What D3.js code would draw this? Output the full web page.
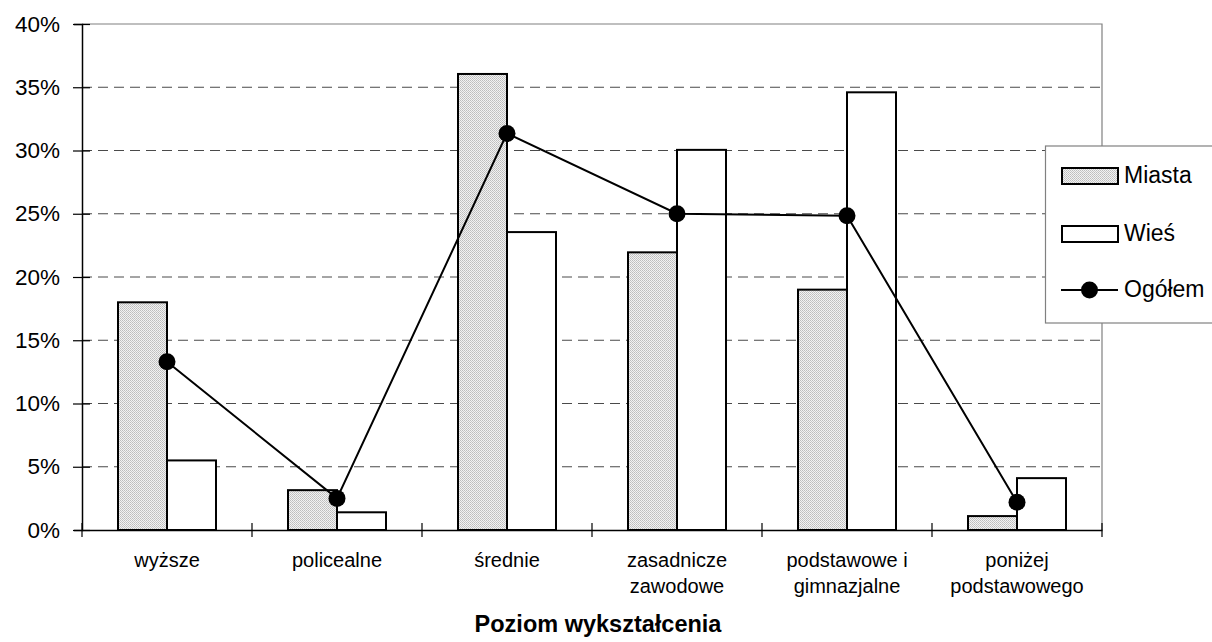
<!DOCTYPE html>
<html>
<head>
<meta charset="utf-8">
<script src="https://cdn.jsdelivr.net/npm/d3@7"></script>
<style>
  html, body { margin: 0; padding: 0; background: #fff; }
  svg { display: block; font-family: "Liberation Sans", Arial, sans-serif; }
</style>
</head>
<body>
<svg id="chart" width="1212" height="642"></svg>
<script>
// ---- data ----
const categories = ["wyższe", "policealne", "średnie", "zasadnicze\nzawodowe", "podstawowe i\ngimnazjalne", "poniżej\npodstawowego"];
const seriesNames = ["Miasta", "Wieś", "Ogółem"];
const miasta = [18.0, 3.15, 36.05, 21.95, 19.0, 1.1];
const wies = [5.5, 1.4, 23.55, 30.05, 34.6, 4.1];
const ogolem = [13.3, 2.5, 31.35, 25.0, 24.85, 2.2];
const yTicks = [0, 5, 10, 15, 20, 25, 30, 35, 40];
const xTitle = "Poziom wykształcenia";

// ---- layout ----
const svg = d3.select("#chart");
const plot = { left: 82, right: 1102, top: 24, bottom: 530 };

const x = d3.scaleBand().domain(categories).range([plot.left, plot.right]).padding(0);
const y = d3.scaleLinear().domain([0, 40]).range([plot.bottom, plot.top]);
const barW = 49;
const xSub = d3.scaleBand().domain(["Miasta", "Wieś"])
  .range([x.bandwidth() / 2 - barW, x.bandwidth() / 2 + barW]).padding(0);

// pattern for Miasta
const defs = svg.append("defs");
const pat = defs.append("pattern").attr("id", "dots").attr("width", 2).attr("height", 2)
  .attr("patternUnits", "userSpaceOnUse");
pat.append("rect").attr("width", 2).attr("height", 2).attr("fill", "#f2f2f2");
pat.append("rect").attr("width", 1).attr("height", 1).attr("fill", "#bdbdbd");
pat.append("rect").attr("x", 1).attr("y", 1).attr("width", 1).attr("height", 1).attr("fill", "#c8c8c8");

// gridlines (dashed), excluding 0 and 40
svg.append("g").selectAll("line").data(yTicks.filter(d => d > 0 && d < 40)).join("line")
  .attr("x1", plot.left).attr("x2", plot.right)
  .attr("y1", d => y(d)).attr("y2", d => y(d))
  .attr("stroke", "#4a4a4a").attr("stroke-width", 1).attr("stroke-dasharray", "10,6");

// plot border top & right (gray)
svg.append("path")
  .attr("d", `M${plot.left},${y(40)}H${plot.right}V${plot.bottom}`)
  .attr("fill", "none").attr("stroke", "#808080").attr("stroke-width", 1.2);

// bars
const groups = svg.append("g").selectAll("g").data(categories).join("g")
  .attr("transform", d => `translate(${x(d)},0)`);
groups.append("rect")
  .attr("x", xSub("Miasta")).attr("width", xSub.bandwidth())
  .attr("y", (d, i) => y(miasta[i])).attr("height", (d, i) => y(0) - y(miasta[i]))
  .attr("fill", "url(#dots)").attr("stroke", "#000").attr("stroke-width", 2);
groups.append("rect")
  .attr("x", xSub("Wieś")).attr("width", xSub.bandwidth())
  .attr("y", (d, i) => y(wies[i])).attr("height", (d, i) => y(0) - y(wies[i]))
  .attr("fill", "#fff").attr("stroke", "#000").attr("stroke-width", 2);

// y axis
const yAxis = svg.append("g").attr("transform", `translate(${plot.left},0)`)
  .call(d3.axisLeft(y).tickValues(yTicks).tickFormat(d => d + "%").tickSize(8).tickPadding(14));
yAxis.select(".domain").attr("stroke", "#000").attr("stroke-width", 1.5);
yAxis.selectAll(".tick line").attr("stroke", "#000").attr("stroke-width", 1.2).attr("x2", 8).attr("x1", -9);
yAxis.selectAll(".tick text").attr("font-size", 22.5).attr("fill", "#000").attr("x", -22)
  .attr("font-family", "'Liberation Sans', Arial, sans-serif");

// x axis
const xAxis = svg.append("g").attr("transform", `translate(0,${plot.bottom})`)
  .call(d3.axisBottom(x).tickSize(0).tickFormat(""));
xAxis.select(".domain").attr("stroke", "#000").attr("stroke-width", 1.5);
xAxis.selectAll(".tick").remove();
const boundaries = categories.map(c => x(c)).concat([plot.right]);
xAxis.selectAll("line.b").data(boundaries).join("line").attr("class", "b")
  .attr("x1", d => d).attr("x2", d => d).attr("y1", -7).attr("y2", 7)
  .attr("stroke", "#000").attr("stroke-width", 1.2);

// category labels
const lbl = svg.append("g").selectAll("text").data(categories).join("text")
  .attr("x", d => x(d) + x.bandwidth() / 2).attr("y", 567)
  .attr("text-anchor", "middle").attr("font-size", 20).attr("fill", "#000");
lbl.selectAll("tspan").data(d => d.split("\n")).join("tspan")
  .attr("x", function() { return d3.select(this.parentNode).attr("x"); })
  .attr("dy", (d, i) => i === 0 ? 0 : 26).text(d => d);

// Ogółem line
const line = d3.line().x((d, i) => x(categories[i]) + x.bandwidth() / 2).y(d => y(d));
svg.append("path").datum(ogolem).attr("d", line)
  .attr("fill", "none").attr("stroke", "#000").attr("stroke-width", 2);
svg.append("g").selectAll("circle").data(ogolem).join("circle")
  .attr("cx", (d, i) => x(categories[i]) + x.bandwidth() / 2).attr("cy", d => y(d))
  .attr("r", 8.5).attr("fill", "#000");

// x title
svg.append("text").attr("x", 598).attr("y", 632)
  .attr("text-anchor", "middle").attr("font-size", 23.5).attr("font-weight", "bold")
  .attr("fill", "#000").text(xTitle);

// legend
const lg = svg.append("g");
lg.append("rect").attr("x", 1045.5).attr("y", 146).attr("width", 180).attr("height", 177)
  .attr("fill", "#fff").attr("stroke", "#808080").attr("stroke-width", 1.2);
const legY = [176, 234, 290];
lg.append("rect").attr("x", 1062).attr("y", legY[0] - 8).attr("width", 56).attr("height", 16)
  .attr("fill", "url(#dots)").attr("stroke", "#000").attr("stroke-width", 2);
lg.append("rect").attr("x", 1062).attr("y", legY[1] - 8).attr("width", 56).attr("height", 16)
  .attr("fill", "#fff").attr("stroke", "#000").attr("stroke-width", 2);
lg.append("line").attr("x1", 1061).attr("x2", 1118).attr("y1", legY[2]).attr("y2", legY[2])
  .attr("stroke", "#000").attr("stroke-width", 2);
lg.append("circle").attr("cx", 1089.5).attr("cy", legY[2]).attr("r", 8.5).attr("fill", "#000");
lg.selectAll("text.l").data(seriesNames).join("text").attr("class", "l")
  .attr("x", 1124).attr("y", (d, i) => legY[i] + 7).attr("font-size", 23).attr("fill", "#000")
  .text(d => d);
</script>
</body>
</html>
